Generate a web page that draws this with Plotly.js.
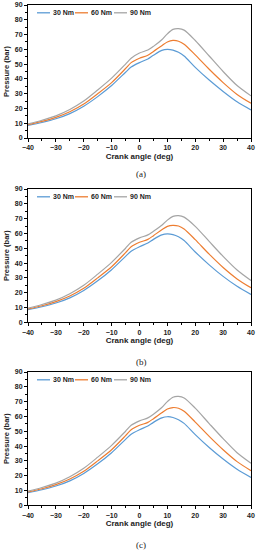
<!DOCTYPE html>
<html>
<head>
<meta charset="utf-8">
<script src="https://cdn.plot.ly/plotly-3.0.1.min.js"></script>
<style>html,body{margin:0;padding:0;background:#fff;}#chart{width:259px;height:550px;}</style>
</head>
<body>
<div id="chart"></div>
<script>
var angles = [-40,-35,-30,-25,-20,-15,-10,-5,-3,0,3,5,8,10,12,14,16,20,25,30,35,40];
var seriesNames = ["30 Nm","60 Nm","90 Nm"];
var panelLabels = ["(a)","(b)","(c)"];
var xTicks = [-40,-30,-20,-10,0,10,20,30,40];
var yTicks = [0,10,20,30,40,50,60,70,80,90];

// Panel (a)
var a30 = [8.5,10.5,13,16.5,21.5,28,35.5,44.5,48,51,53.5,56,59.3,60,59.5,58,55.5,47.8,39.2,31.5,24.5,19];
var a60 = [9,11.2,14,17.8,23,30,37.5,47,51,54,56,58.5,62.5,65,66,65.5,63.5,56.2,46.5,37.5,29.5,23.5];
var a90 = [9.5,12,15,19.3,25,32.5,40.5,50,54,57.5,59.5,62,66.5,70.5,73.5,74,73,66,55.5,45,35.5,28.5];
// Panel (b)
var b30 = [8.5,10.5,13,16.5,21.5,28,35.5,44.5,48,51,53.5,56,59,59.7,59.2,57.7,55.2,47.5,38.8,31,24.3,18.8];
var b60 = [9,11.2,14,17.8,23,30,37.5,47,51,54,56,58.5,62.5,64.8,65.5,65,63,55.8,46,37,29.3,23.3];
var b90 = [9.5,12,15,19.3,25,32.5,40.5,50,54,57,59,61.5,65.5,69,71.5,72,71,64.8,54.6,44.5,35.3,28.2];
// Panel (c)
var c30 = [8.5,10.5,13,16.5,21.5,28,35.5,44.5,48,51,53.5,56,59,59.8,59.3,57.8,55.3,47.7,39,31.2,24.3,18.8];
var c60 = [9,11.2,14,17.8,23,30,37.5,47,51,54,56,58.5,62.5,65,66,65.5,63.5,56.2,46.5,37.5,29.5,23.4];
var c90 = [9.5,12,15,19.3,25,32.5,40.5,50,54,57,59,61.5,66,70,73,73.5,72.5,65.6,55.2,45,35.5,28.4];

var colors = ["#5B9BD5","#ED7D31","#A5A5A5"];
var panels = [[a30,a60,a90],[b30,b60,b90],[c30,c60,c90]];

var H = 550, W = 259;
var plotTop = [5, 189, 372];
var plotBot = [138, 322.3, 505.3];
var xL = 28, xR = 251;
// legend layout (px): line start, line end, text start for each entry
var legLine0 = [37, 75, 114];
var legLine1 = [50, 88, 127];
var legText = [51, 89, 128];

var traces = [];
var layout = {
  width: W, height: H,
  margin: {l:0, r:0, t:0, b:0},
  paper_bgcolor: "#fff", plot_bgcolor: "#fff",
  showlegend: false,
  annotations: [], shapes: [],
  font: {family: "Liberation Sans, Arial, sans-serif", color: "#000"}
};

for (var p = 0; p < 3; p++) {
  var sfx = p === 0 ? "" : String(p + 1);
  for (var s = 0; s < 3; s++) {
    traces.push({
      x: angles, y: panels[p][s], name: seriesNames[s],
      type: "scatter", mode: "lines",
      line: {color: colors[s], width: 1.2, shape: "spline", smoothing: 0.8},
      xaxis: "x" + sfx, yaxis: "y" + sfx,
      hoverinfo: "skip"
    });
    var ly = 1 - (plotTop[p] + 7.8) / H;
    layout.shapes.push({
      type: "line", xref: "paper", yref: "paper",
      x0: legLine0[s] / W, x1: legLine1[s] / W, y0: ly, y1: ly,
      line: {color: colors[s], width: 1.3}
    });
    layout.annotations.push({
      text: seriesNames[s], xref: "paper", yref: "paper",
      x: legText[s] / W, y: ly, xanchor: "left", yanchor: "middle",
      showarrow: false, font: {size: 7, weight: "bold", color: "#222"}
    });
  }
  var yd = [1 - plotBot[p] / H, 1 - plotTop[p] / H];
  var axCommon = {
    showline: true, linecolor: "#000", linewidth: 1, mirror: true,
    showgrid: false, zeroline: false,
    ticks: "outside", ticklen: 3, tickwidth: 1, tickcolor: "#000",
    tickfont: {size: 7, color: "#222", weight: "bold"},
    fixedrange: true, automargin: false
  };
  layout["xaxis" + sfx] = Object.assign({}, axCommon, {
    domain: [xL / W, xR / W], anchor: "y" + sfx,
    range: [-40, 40], tickmode: "array", tickvals: xTicks,
    minor: {dtick: 5, ticks: "outside", ticklen: 2, tickcolor: "#000"},
    title: {text: "Crank angle (deg)", font: {size: 8, weight: "bold", color: "#222"}, standoff: 2}
  });
  layout["yaxis" + sfx] = Object.assign({}, axCommon, {
    domain: yd, anchor: "x" + sfx,
    range: [0, 90], tickmode: "array", tickvals: yTicks,
    minor: {dtick: 5, ticks: "outside", ticklen: 2, tickcolor: "#000"},
    title: {text: "Pressure (bar)", font: {size: 7.5, weight: "bold", color: "#222"}, standoff: 4}
  });
  layout.annotations.push({
    text: panelLabels[p], xref: "paper", yref: "paper",
    x: 141 / W, y: 1 - [173.7, 362, 545][p] / H,
    xanchor: "center", yanchor: "middle", showarrow: false,
    font: {family: "Liberation Serif, Times New Roman, serif", size: 9, color: "#222"}
  });
}

Plotly.newPlot("chart", traces, layout, {displayModeBar: false, staticPlot: true});
</script>
</body>
</html>
